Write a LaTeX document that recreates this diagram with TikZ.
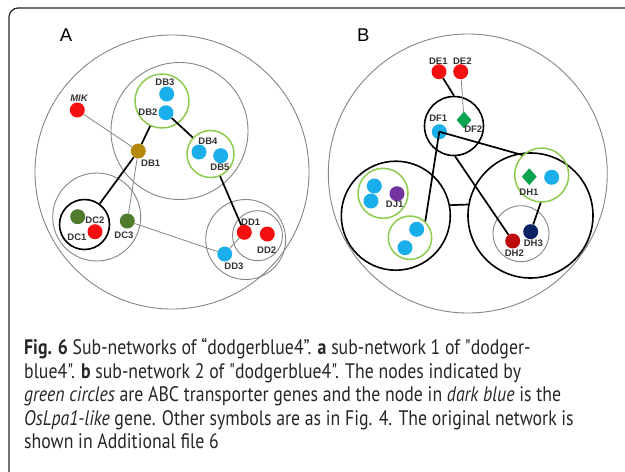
\documentclass[tikz,border=0pt]{standalone}
\usepackage{fontspec}
\setmainfont{Liberation Sans}
\newfontfamily\capfont{PT Sans}[FakeStretch=0.846]
\usetikzlibrary{shapes.geometric}
\definecolor{cred}{HTML}{F40F10}
\definecolor{cblue}{HTML}{1AAFEA}
\definecolor{cgold}{HTML}{B38A0C}
\definecolor{colive}{HTML}{4F7B2C}
\definecolor{cgreen}{HTML}{0AA24E}
\definecolor{cpurple}{HTML}{7333A0}
\definecolor{cdred}{HTML}{BD0A0A}
\definecolor{cnavy}{HTML}{0A2365}
\definecolor{clgreen}{HTML}{8CCB4E}
\definecolor{cgray}{HTML}{858585}
\tikzset{
  gene/.style={circle, fill=#1, draw=none, inner sep=0, minimum size=15pt},
  dgene/.style={diamond, fill=#1, draw=none, inner sep=0, minimum width=15pt, minimum height=17pt},
  grp/.style={circle, draw=cgray, line width=0.9pt, inner sep=0, minimum size=#1},
  ggrp/.style={circle, draw=clgreen, line width=1.5pt, inner sep=0, minimum size=#1},
  bgrp/.style={circle, draw=black, line width=1.6pt, inner sep=0, minimum size=#1},
  lab/.style={font=\bfseries\fontsize{9.5}{10}\selectfont, text=black!80, inner sep=0},
  thk/.style={draw=black, line width=1.7pt},
  thn/.style={draw=cgray, line width=0.8pt},
  panel/.style={font=\fontsize{18.5}{20}\selectfont, inner sep=0},
  capline/.style={font=\capfont\fontsize{21}{23.5}\selectfont, text=black!85, inner sep=0, anchor=base west}
}
\begin{document}
\begin{tikzpicture}[x=1pt,y=-1pt]
\useasboundingbox (0,0) rectangle (625,472);
\draw[line width=1.2pt, black!85, rounded corners=9] (9,490) -- (9,8) -- (640,8);

% ---------- Panel A ----------
\node[panel] (pA) at (66,35) {A};
\node[grp=274pt] (gAout) at (172,172) {};
\node[grp=137pt] (gAB) at (179.5,131) {};
\node[ggrp=54pt] (gA1) at (162,101) {};
\node[ggrp=47pt] (gA2) at (210.5,154) {};
\node[grp=88pt] (gAC) at (96.7,217) {};
\node[bgrp=50pt] (gAC1) at (84.5,224.5) {};
\node[grp=80pt] (gAD) at (245.7,239.5) {};
\node[grp=50pt] (gAD1) at (257.5,235.7) {};

\node[gene=cred] (MIK) at (77.3,110) {};
\node[gene=cblue] (DB3) at (166.7,94) {};
\node[gene=cblue] (DB2) at (166,112.7) {};
\node[gene=cblue] (DB4) at (199,152) {};
\node[gene=cblue] (DB5) at (220.7,155.7) {};
\node[gene=cgold] (DB1) at (138.3,151) {};
\node[gene=colive] (DC2) at (77.7,216.7) {};
\node[gene=cred] (DC1) at (95,231.7) {};
\node[gene=colive] (DC3) at (127.3,221) {};
\node[gene=cred] (DD1) at (244.3,232.3) {};
\node[gene=cred] (DD2) at (267.3,234) {};
\node[gene=cblue] (DD3) at (224.7,254) {};

\node[lab, font=\bfseries\itshape\fontsize{9.5}{10}\selectfont] (lMIK) at (79,98) {MIK};
\node[lab] (lDB3) at (165,82) {DB3};
\node[lab] (lDB2) at (148,112) {DB2};
\node[lab] (lDB4) at (208,141) {DB4};
\node[lab] (lDB5) at (220,167) {DB5};
\node[lab] (lDB1) at (150.7,163) {DB1};
\node[lab] (lDC2) at (95,220) {DC2};
\node[lab] (lDC1) at (77,237) {DC1};
\node[lab] (lDC3) at (124,235) {DC3};
\node[lab] (lDD1) at (250.7,222.7) {DD1};
\node[lab] (lDD2) at (266.7,250) {DD2};
\node[lab] (lDD3) at (234,266.7) {DD3};

\draw[thn] (MIK) -- (DB1);
\draw[thn] (DB1) -- (DC3);
\draw[thn] (DC3) -- (DD3);
\draw[thn] (DD3) -- (DD1);
\draw[thk] (DB1) -- (gA1);
\draw[thk] (DB2) -- (gA2);
\draw[thk] (gA2) -- (DD1);
\draw[thk] (DB1) -- (gAC1);

% ---------- Panel B ----------
\node[panel] (pB) at (363.3,35) {B};
\node[grp=279pt] (gBout) at (467.8,173.5) {};
\node[bgrp=59pt] (gB0) at (454,126) {};
\node[bgrp=109pt] (gBL) at (395.8,215.7) {};
\node[bgrp=125pt] (gBR) at (530.5,215.5) {};
\node[ggrp=50pt] (gB1) at (383,193.3) {};
\node[ggrp=43.4pt] (gB2) at (410,237.7) {};
\node[ggrp=54pt] (gB3) at (541.7,175) {};
\node[grp=56pt] (gB4) at (521,233.7) {};

\node[gene=cred] (DE1) at (439,71.7) {};
\node[gene=cred] (DE2) at (460.7,71.7) {};
\node[gene=cblue] (DF1) at (439.3,131.7) {};
\node[dgene=cgreen] (DF2) at (464,120) {};
\node[gene=cblue] (J1) at (374.3,186) {};
\node[gene=cblue] (J2) at (371,201) {};
\node[gene=cpurple] (DJ1) at (397,193.7) {};
\node[gene=cblue] (K1) at (416.7,229.3) {};
\node[gene=cblue] (K2) at (405,247.7) {};
\node[dgene=cgreen] (DH1) at (529.3,176.7) {};
\node[gene=cblue] (H1b) at (551.7,177.3) {};
\node[gene=cdred] (DH2) at (512.7,241) {};
\node[gene=cnavy] (DH3) at (530.7,231.7) {};

\node[lab] (lDE1) at (438.3,61) {DE1};
\node[lab] (lDE2) at (462.3,61) {DE2};
\node[lab] (lDF1) at (438.3,118.3) {DF1};
\node[lab] (lDF2) at (473.3,129.3) {DF2};
\node[lab] (lDJ1) at (394.7,204.3) {DJ1};
\node[lab] (lDH1) at (529,192.7) {DH1};
\node[lab] (lDH2) at (514.3,252.7) {DH2};
\node[lab] (lDH3) at (533.3,243.3) {DH3};

\draw[thk] (DE1) -- (gB0.90);
\draw[thn] (DE2) -- (DF2);
\draw[thk] (DF1.center) -- (gB3.134);
\draw[thk] (DF1.center) -- (gB2.47);
\draw[thk] (gB0.272) -- (DH2);
\draw[thk] (gBL.11.3) -- (gBR.170.3);
\draw[thk] (gB3.268) -- (DH3);

% ---------- Caption ----------
\node[capline] (c1) at (24,354.3) {\textbf{Fig. 6} Sub-networks of “dodgerblue4”. \textbf{a} sub-network 1 of "dodger-};
\node[capline] (c2) at (24,378.0) {blue4". \textbf{b} sub-network 2 of "dodgerblue4". The nodes indicated by};
\node[capline] (c3) at (24,401.6) {\textit{green circles} are ABC transporter genes and the node in \textit{dark blue} is the};
\node[capline] (c4) at (24,425.1) {\textit{OsLpa1-like} gene. Other symbols are as in Fig. 4. The original network is};
\node[capline] (c5) at (24,448.6) {shown in Additional file 6};
\end{tikzpicture}
\end{document}
